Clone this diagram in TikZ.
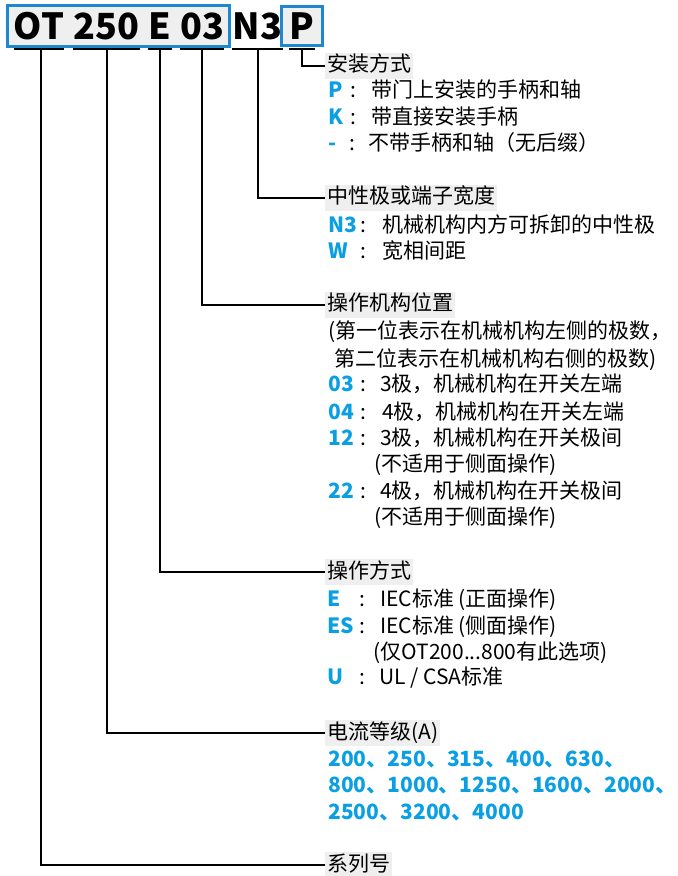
\documentclass[tikz,border=0pt]{standalone}
\usepackage{fontspec}
\setmainfont{Noto Sans CJK SC}
\usetikzlibrary{fit,backgrounds}
\definecolor{codeblue}{HTML}{0A9FE3}
\definecolor{boxblue}{HTML}{1E88CF}
\definecolor{headgray}{HTML}{EFEFEF}

\begin{document}
\begin{tikzpicture}[x=0.5pt, y=-0.5pt,
  seg/.style={inner sep=0pt, anchor=base, font=\fontsize{18}{21}\selectfont\bfseries},
  codebox/.style={draw=boxblue, line width=1.5pt, fill=headgray, inner xsep=2.8pt, inner ysep=3pt},
  uline/.style={line width=1pt},
  conn/.style={line width=1pt},
  head/.style={anchor=west, fill=headgray, inner xsep=1pt, inner ysep=1.3pt,
    text height=8pt, text depth=2pt, font=\fontsize{10.5}{12}\selectfont},
  key/.style={anchor=west, inner sep=0pt, text=codeblue, text height=8pt, text depth=2pt,
    font=\fontsize{10.5}{12}\selectfont\bfseries},
  txt/.style={anchor=west, inner sep=0pt, text height=8pt, text depth=2pt,
    font=\fontsize{10.5}{12}\selectfont}]

  \useasboundingbox (0,0) rectangle (678,876);

  % type code
  \node[seg] (ot) at (39,39.5) {OT};
  \node[seg] (amp) at (106.5,39.5) {250};
  \node[seg] (e) at (160,39.5) {E};
  \node[seg] (pos) at (202,39.5) {03};
  \node[seg] (n3) at (257.5,39.5) {N3};
  \node[seg] (p) at (302,39.5) {P};
  \begin{scope}[on background layer]
    \node[codebox, fit=(ot)(pos)] (boxa) {};
    \node[codebox, inner xsep=4pt, fit=(p)] (boxb) {};
  \end{scope}

  % underlines
  \foreach \s in {ot,amp,e,pos,n3,p}
    \draw[uline] ([yshift=-4.75pt]\s.base west) -- ([yshift=-4.75pt]\s.base east);

  % headings
  \node[head] (hmount) at (325,66) {安装方式\hspace{3pt}};
  \node[head] (hneutral) at (325,198) {中性极或端子宽度\hspace{2.5pt}};
  \node[head] (hpos) at (325,305) {操作机构位置\hspace{3pt}};
  \node[head] (hop) at (325,572) {操作方式\hspace{3pt}};
  \node[head] (hamp) at (325,733) {电流等级(A)\hspace{2.5pt}};
  \node[head] (hser) at (325,865) {系列号\hspace{2pt}};

  % connectors
  \draw[conn] ([yshift=-4.75pt]p.base) |- (hmount.west);
  \draw[conn] ([yshift=-4.75pt]n3.base) |- (hneutral.west);
  \draw[conn] ([yshift=-4.75pt]pos.base) |- (hpos.west);
  \draw[conn] ([yshift=-4.75pt]e.base) |- (hop.west);
  \draw[conn] ([yshift=-4.75pt]amp.base) |- (hamp.west);
  \draw[conn] ([xshift=1pt,yshift=-4.75pt]ot.base) |- (hser.west);

  % handle
  \node[key] (kp) at (328,92) {P};
  \node[txt] (tp) at (350,92) {:\hspace{7.5pt}带门上安装的手柄和轴};
  \node[key] (kk) at (328,119) {K};
  \node[txt] (tk) at (350,119) {:\hspace{7.5pt}带直接安装手柄};
  \node[key] (kn) at (328,145) {-};
  \node[txt] (tn) at (349,145) {:\hspace{6.5pt}不带手柄和轴（无后缀）};

  % neutral / terminal width
  \node[key] (kn3) at (328,227) {N3};
  \node[txt] (tn3) at (360,227) {:\hspace{8pt}机械机构内方可拆卸的中性极};
  \node[key] (kw) at (328,253) {W};
  \node[txt] (tw) at (360,253) {:\hspace{8pt}宽相间距};

  % mechanism position
  \node[txt] (tpa) at (328,333) {(第一位表示在机械机构左侧的极数，};
  \node[txt] (tpb) at (334,360) {第二位表示在机械机构右侧的极数)};
  \node[key] (k03) at (328,386) {03};
  \node[txt] (t03) at (360,386) {:\hspace{7pt}3极，机械机构在开关左端};
  \node[key] (k04) at (328,413) {04};
  \node[txt] (t04) at (360,413) {:\hspace{8pt}4极，机械机构在开关左端};
  \node[key] (k12) at (328,439) {12};
  \node[txt] (t12) at (360,439) {:\hspace{7pt}3极，机械机构在开关极间};
  \node[txt] (n12) at (374,465) {(不适用于侧面操作)};
  \node[key] (k22) at (328,492) {22};
  \node[txt] (t22) at (360,492) {:\hspace{7pt}4极，机械机构在开关极间};
  \node[txt] (n22) at (374,518) {(不适用于侧面操作)};

  % operation
  \node[key] (ke) at (327,600) {E};
  \node[txt] (te) at (359,600) {:\hspace{7.5pt}IEC标准 (正面操作)};
  \node[key] (kes) at (327,627) {ES};
  \node[txt] (tes) at (359,627) {:\hspace{7.5pt}IEC标准 (侧面操作)};
  \node[txt] (nes) at (373,653) {(仅OT200...800有此选项)};
  \node[key] (ku) at (327,678) {U};
  \node[txt] (tu) at (359,678) {:\hspace{7pt}UL / CSA标准};

  % rated current
  \node[key] (ra) at (328,760) {200、250、315、400、630、};
  \node[key] (rb) at (328,786) {800、1000、1250、1600、2000、};
  \node[key] (rc) at (328,813) {2500、3200、4000};

\end{tikzpicture}
\end{document}
